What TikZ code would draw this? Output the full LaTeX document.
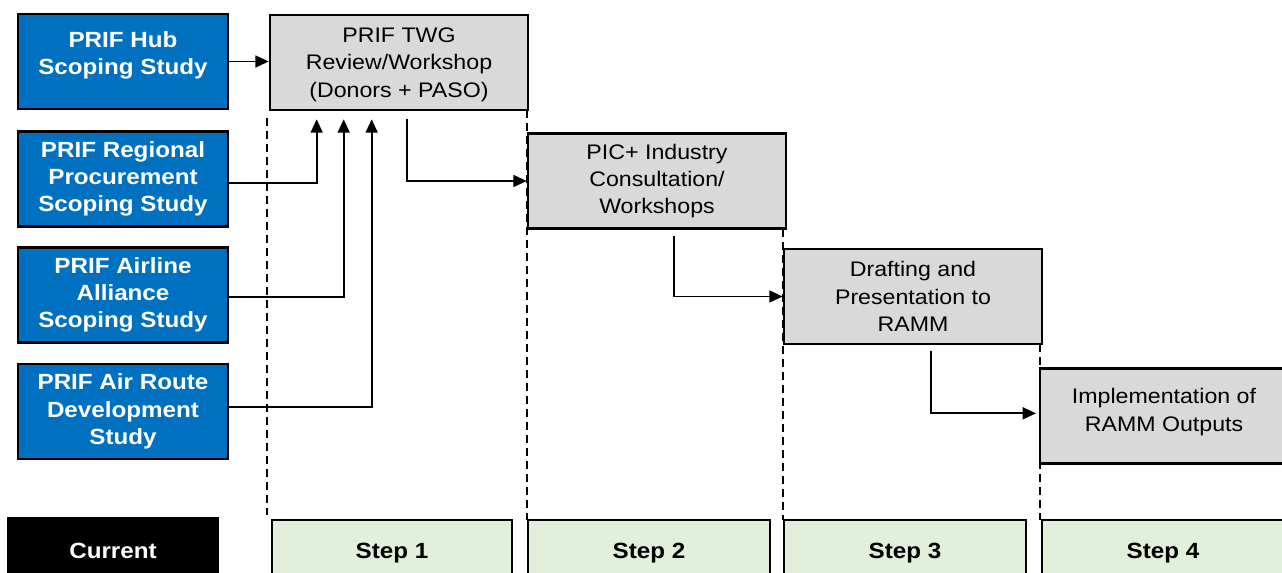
\documentclass[tikz,border=0pt]{standalone}
\usepackage{fontspec}
\setmainfont[FakeStretch=1.1]{Liberation Sans}
\usetikzlibrary{arrows.meta}

\begin{document}
\begin{tikzpicture}[x=0.75pt,y=0.75pt,yscale=-1,xscale=1,
	bluebox/.style={draw, line width=2pt, fill={rgb, 255:red, 0; green, 112; blue, 192}, text=white, font=\fontsize{16.5}{20.5}\selectfont\bfseries, align=center, minimum width=157.5pt, minimum height=71.25pt, inner sep=0pt},
	greybox/.style={draw, line width=2pt, fill={rgb, 255:red, 217; green, 217; blue, 217}, font=\fontsize{15.8}{20.5}\selectfont, align=center, minimum width=193.5pt, minimum height=71.25pt, inner sep=0pt},
	stepbox/.style={draw, line width=2pt, fill={rgb, 255:red, 226; green, 239; blue, 218}, font=\fontsize{16.5}{20}\selectfont\bfseries, minimum width=181.5pt, minimum height=49.5pt, inner sep=0pt},
	arr/.style={line width=1.3pt, -{Triangle[length=10pt,width=9pt]}},
	sep/.style={line width=1.8pt, dash pattern=on 6pt off 3.75pt}]
	\useasboundingbox (0,0) rectangle (1282,573);
	\node[bluebox] (hub) at (123,61.5) {\raisebox{4.5pt}[\height][\depth]{\begin{tabular}{@{}c@{}}PRIF Hub\\Scoping Study\end{tabular}}};
	\node[bluebox] (reg) at (123,179) {PRIF Regional\\Procurement\\Scoping Study};
	\node[bluebox] (air) at (123,295) {PRIF Airline\\Alliance\\Scoping Study};
	\node[bluebox] (route) at (123,411.5) {PRIF Air Route\\Development\\Study};
	\node[greybox] (twg) at (399,62.5) {\raisebox{-1.5pt}[\height][\depth]{\begin{tabular}{@{}c@{}}PRIF TWG\\Review/Workshop\\(Donors + PASO)\end{tabular}}};
	\node[greybox] (pic) at (657,181) {PIC+ Industry\\Consultation/\\Workshops};
	\node[greybox] (draft) at (913,296.5) {Drafting and\\Presentation to\\RAMM};
	\node[greybox, minimum width=186pt] (impl) at (1164,416) {\raisebox{3pt}[\height][\depth]{\begin{tabular}{@{}c@{}}Implementation of\\RAMM Outputs\end{tabular}}};
	\node[stepbox, fill=black, text=white, minimum width=157.5pt] (cur) at (113,551) {Current};
	\node[stepbox, minimum width=180pt] (s1) at (392,553) {Step 1};
	\node[stepbox] (s2) at (649,553) {Step 2};
	\node[stepbox] (s3) at (905,553) {Step 3};
	\node[stepbox] (s4) at (1163,553) {Step 4};
	\draw[sep] (267,118) -- (267,515);
	\draw[sep] (527,110) -- (527,520);
	\draw[sep] (783,229) -- (783,520);
	\draw[sep] (1040,344) -- (1040,520);
	\draw[arr] (hub.east) -- (hub.east -| twg.west);
	\draw[arr, shorten >=6pt] ([yshift=3pt]reg.east) -| ([xshift=36pt]twg.south west);
	\draw[arr, shorten >=6pt] ([yshift=1.5pt]air.east) -| ([xshift=56.25pt]twg.south west);
	\draw[arr, shorten >=6pt] ([yshift=-3.4pt]route.east) -| ([xshift=77.25pt]twg.south west);
	\draw[arr, shorten <=6pt] ([xshift=103.5pt]twg.south west) |- (pic.west);
	\draw[arr, shorten <=4.5pt] ([xshift=110.25pt]pic.south west) |- (draft.west);
	\draw[arr, shorten <=4pt, shorten >=2pt] ([xshift=111pt]draft.south west) |- ([yshift=-2pt]impl.west);
\end{tikzpicture}
\end{document}
